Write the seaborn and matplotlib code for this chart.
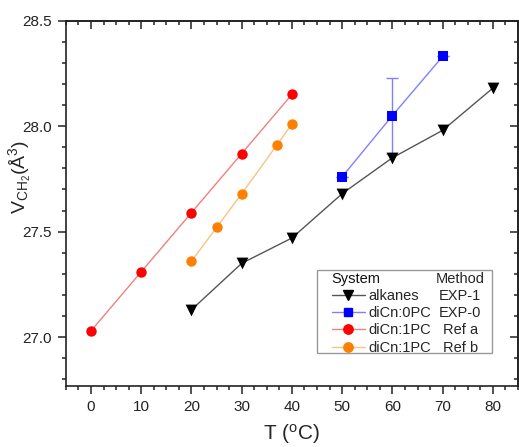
import matplotlib
matplotlib.use("Agg")
import matplotlib.pyplot as plt
from matplotlib.lines import Line2D
from matplotlib.patches import Rectangle
from matplotlib.ticker import MultipleLocator, FormatStrFormatter
import seaborn as sns
import pandas as pd

# Temperature (°C) and CH2 group volume (Å^3) for each system
alk_T = [20, 30, 40, 50, 60, 70, 80]
alk_V = [27.13, 27.35, 27.47, 27.68, 27.85, 27.98, 28.18]

pc0_T = [50, 60, 70]
pc0_V = [27.76, 28.05, 28.33]
pc0_err = [0.0, 0.18, 0.0]

refa_T = [0, 10, 20, 30, 40]
refa_V = [27.03, 27.31, 27.59, 27.87, 28.15]

refb_T = [20, 25, 30, 37, 40]
refb_V = [27.36, 27.52, 27.68, 27.91, 28.01]

systems = ["alkanes", "diCn:0PC", "diCn:1PC", "diCn:1PC"]
methods = ["EXP-1", "EXP-0", "Ref a", "Ref b"]

sns.set_theme(style="ticks")
plt.rcParams["font.family"] = ["Liberation Sans", "DejaVu Sans"]
plt.rcParams["mathtext.fontset"] = "custom"
plt.rcParams["mathtext.rm"] = "Liberation Sans"
plt.rcParams["mathtext.it"] = "Liberation Sans"

fig = plt.figure(figsize=(5.19, 4.47), dpi=100)
ax = fig.add_axes([0.127, 0.137, 0.871, 0.817])

series = [
    (alk_T, alk_V, "v", "#000000", "#555555", 8.5),
    (pc0_T, pc0_V, "s", "#0000ff", "#8080ff", 6.5),
    (refa_T, refa_V, "o", "#ff0000", "#f08080", 7.5),
    (refb_T, refb_V, "o", "#ff8000", "#f7c483", 7.5),
]

# error bar on the 0PC series
ax.errorbar(pc0_T, pc0_V, yerr=pc0_err, fmt="none", ecolor="#8080ff",
            elinewidth=1.0, capsize=4, capthick=1.0, zorder=1)

handles = []
for T, V, mk, mc, lc, ms in series:
    df = pd.DataFrame({"T": T, "V": V})
    sns.lineplot(data=df, x="T", y="V", color=lc, linewidth=1.0, ax=ax,
                 zorder=2, sort=False)
    sns.scatterplot(data=df, x="T", y="V", marker=mk, color=mc, s=ms**2,
                    edgecolor=mc, linewidth=0, ax=ax, zorder=3)
    handles.append(Line2D([], [], color=lc, lw=1.0, marker=mk,
                          markerfacecolor=mc, markeredgecolor=mc,
                          markersize=ms * 0.9))

ax.set_xlim(-5, 85)
ax.set_ylim(26.77, 28.5)
ax.xaxis.set_major_locator(MultipleLocator(10))
ax.xaxis.set_minor_locator(MultipleLocator(2.5))
ax.yaxis.set_major_locator(MultipleLocator(0.5))
ax.yaxis.set_minor_locator(MultipleLocator(0.1))
ax.yaxis.set_major_formatter(FormatStrFormatter("%.1f"))

for sp in ax.spines.values():
    sp.set_linewidth(1.2)
    sp.set_color("#222222")

ax.tick_params(which="both", direction="out", top=False, right=False,
               colors="#222222", labelsize=11, width=1.1)
ax.tick_params(which="major", length=6, pad=4)
ax.tick_params(which="minor", length=3)

# inward ticks on top and right
axt = ax.secondary_xaxis("top")
axt.xaxis.set_major_locator(MultipleLocator(10))
axt.xaxis.set_minor_locator(MultipleLocator(2.5))
axt.tick_params(which="both", direction="in", labeltop=False, width=1.1,
                colors="#222222")
axt.tick_params(which="major", length=6)
axt.tick_params(which="minor", length=3)
axr = ax.secondary_yaxis("right")
axr.yaxis.set_major_locator(MultipleLocator(0.5))
axr.yaxis.set_minor_locator(MultipleLocator(0.1))
axr.tick_params(which="both", direction="in", labelright=False, width=1.1,
                colors="#222222")
axr.tick_params(which="major", length=6)
axr.tick_params(which="minor", length=3)

ax.set_xlabel(r"T ($^{\mathrm{o}}$C)", fontsize=15, labelpad=6)
ax.set_ylabel(r"V$_{\mathrm{CH_2}}$(Å$^3$)", fontsize=14)
ax.yaxis.set_label_coords(-0.072, 0.572)

# legend: System column with markers, Method column as text, framed box
fs = 10.5
leg = ax.legend(handles, systems, title="System", loc="upper left",
                bbox_to_anchor=(0.588, 0.312), fontsize=fs,
                title_fontsize=fs, frameon=False, handlelength=2.25,
                handletextpad=0.25, labelspacing=0.22, borderpad=0,
                borderaxespad=0, alignment="left")
leg.get_title().set_color("#111111")
ax.add_patch(Rectangle((0.555, 0.0896), 0.387, 0.2274,
                       transform=ax.transAxes, fill=True, facecolor="white",
                       edgecolor="#999999", linewidth=1.0, zorder=4))
leg.set_zorder(5)

fig.canvas.draw()
renderer = fig.canvas.get_renderer()
inv = ax.transAxes.inverted()
x_mid = 0.872
title_bb = leg.get_title().get_window_extent(renderer)
ty = inv.transform((0, (title_bb.y0 + title_bb.y1) / 2))[1]
ax.text(x_mid, ty, "Method", ha="center", va="center", fontsize=fs,
        transform=ax.transAxes, zorder=6)
for txt, m in zip(leg.get_texts(), methods):
    bb = txt.get_window_extent(renderer)
    y = inv.transform((0, (bb.y0 + bb.y1) / 2))[1]
    ax.text(x_mid, y, m, ha="center", va="center", fontsize=fs,
            transform=ax.transAxes, zorder=6)

fig.savefig("out.png", dpi=100)
